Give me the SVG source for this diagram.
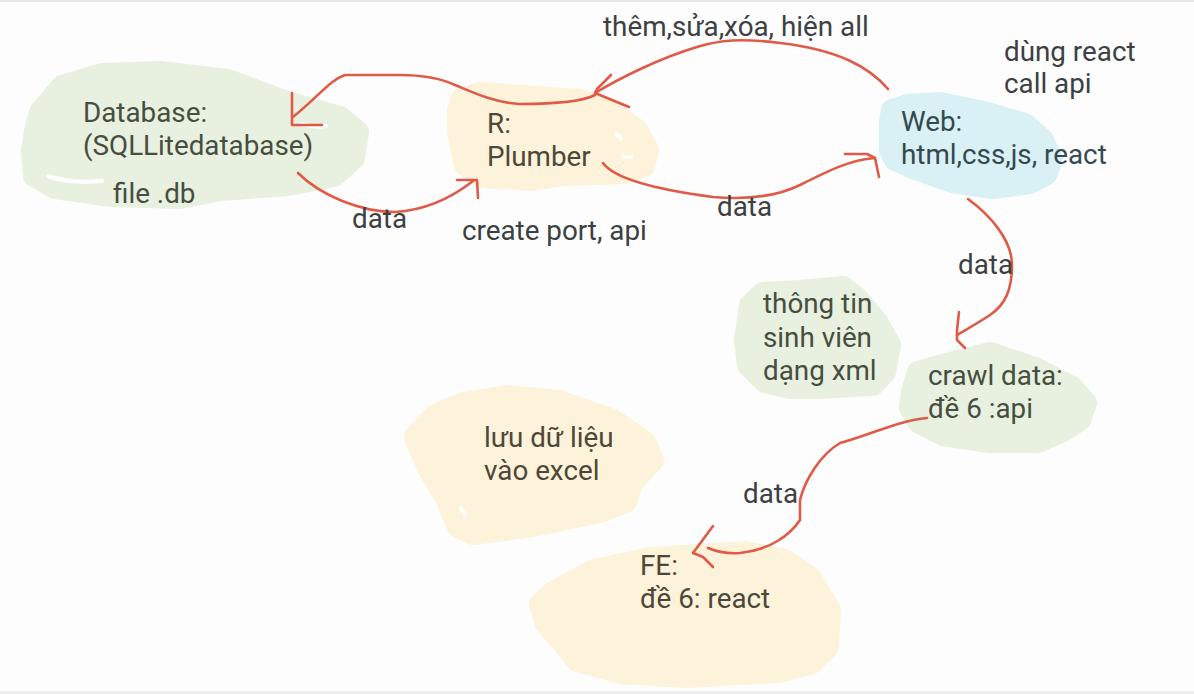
<svg xmlns="http://www.w3.org/2000/svg" width="1194" height="694" viewBox="0 0 1194 694">
<style>
.bg{fill:#e8f0df;stroke:#e8f0df;stroke-width:22;stroke-linejoin:round}
.by{fill:#fdf2da;stroke:#fdf2da;stroke-width:22;stroke-linejoin:round}
.bb{fill:#d9f1f5;stroke:#d9f1f5;stroke-width:22;stroke-linejoin:round}
.gap{fill:none;stroke:#ffffff;stroke-width:4;stroke-linecap:round}
text{font-family:Roboto,"Noto Sans",sans-serif;font-size:27.8px;fill:#3c4043}
.tg{fill:#464e40}
.ty{fill:#4e4737}
.tb{fill:#34494f}
.c{fill:none;stroke:#e05a48;stroke-width:2.6;stroke-linecap:round;stroke-linejoin:round}
</style>
<rect x="0" y="0" width="1194" height="694" fill="#fdfdfd"/>
<rect x="0" y="0" width="1194" height="2" fill="#e6e6e6"/>
<rect x="0" y="691" width="1194" height="3" fill="#efefef"/>

<g id="node-database">
<polygon class="bg" points="40,112 62,86 102,74 160,72 228,80 287,102 340,117 358,132 354,158 334,176 288,185 220,190 180,198 112,196 55,188 34,176 32,150 36,126"/>
<path class="gap" d="M48 176 Q70 184 102 181"/>
<path class="gap" d="M302 124 Q315 128 326 126"/>
<text class="tg" x="83" y="122">Database:</text>
<text class="tg" x="83" y="155">(SQLLitedatabase)</text>
<text class="tg" x="113" y="203">file .db</text>
</g>

<g id="node-r">
<polygon class="by" points="462,98 480,93 580,100 612,112 637,130 648,150 644,166 625,173 563,175 530,180 483,177 465,165 458,133 458,110"/>
<path class="gap" d="M617 134 L621 139"/>
<path class="gap" d="M623 157 L631 157"/>
<text class="ty" x="487" y="133">R:</text>
<text class="ty" x="487" y="166">Plumber</text>
</g>

<g id="node-web">
<polygon class="bb" points="890,122 892,110 908,105 940,103 988,113 1025,124 1043,140 1052,160 1046,175 1030,183 993,188 952,182 918,170 895,160 890,150"/>
<text class="tb" x="901" y="131">Web:</text>
<text class="tb" x="901" y="164">html,css,js, react</text>
</g>

<g id="node-xml">
<polygon class="bg" points="750,305 763,293 800,291 843,287 857,298 878,323 890,345 885,372 873,385 820,388 790,388 765,382 748,365 745,340"/>
<text class="tg" x="763" y="313">thông tin</text>
<text class="tg" x="763" y="347">sinh viên</text>
<text class="tg" x="763" y="380">dạng xml</text>
</g>

<g id="node-crawl">
<polygon class="bg" points="912,392 918,372 935,367 990,353 1035,368 1072,387 1086,403 1080,420 1063,431 1038,442 990,442 943,435 918,422 910,408"/>
<text class="tg" x="928" y="385">crawl data:</text>
<text class="tg" x="928" y="418">đề 6 :api</text>
</g>

<g id="node-excel">
<polygon class="by" points="415,437 435,415 463,403 508,396 558,401 613,420 645,442 653,460 632,483 626,502 600,512 533,526 473,534 458,527 446,498 428,468"/>
<path class="gap" d="M461 508 L465 515"/>
<text class="ty" x="484" y="447">lưu dữ liệu</text>
<text class="ty" x="484" y="480">vào excel</text>
</g>

<g id="node-fe">
<polygon class="by" points="540,604 553,592 594,570 651,558 746,552 785,560 810,577 830,610 828,647 812,663 778,672 686,677 622,673 577,661 561,641 546,624"/>
<text class="ty" x="640" y="575">FE:</text>
<text class="ty" x="640" y="608">đề 6: react</text>
</g>

<g id="connectors">
<path class="c" d="M888 89 C870 68 840 50 780 43 C740 38 720 40 697 47 C660 58 620 78 595 93"/>
<path class="c" d="M611 75 L597 89 L595 93 L629 107"/>
<path class="c" d="M595 95 C580 103 545 104 520 104 C495 103 472 92 455 85 C440 78 420 75 400 75 L345 75 C330 80 320 95 293 117"/>
<path class="c" d="M292 93 L292 125 L322 125"/>
<path class="c" d="M298 173 C320 195 360 212 395 212 C430 210 455 195 473 181"/>
<path class="c" d="M457 180 L477 180 L478 198"/>
<path class="c" d="M603 163 C615 180 660 190 713 197 C750 200 780 195 800 185 C830 170 850 160 875 158"/>
<path class="c" d="M845 154 L867 154 L875 158 L879 177"/>
<path class="c" d="M968 199 C990 215 1012 240 1012 265 C1012 290 1005 305 990 315 C975 325 965 330 957 335"/>
<path class="c" d="M959 312 L957 330 L957 340 L965 348"/>
<path class="c" d="M927 418 C900 420 870 435 840 443 C820 455 805 480 800 500 L800 520 C790 535 770 550 740 553 C725 554 715 551 708 548"/>
<path class="c" d="M713 526 L693 553 L703 557 L713 567"/>
</g>

<g id="labels">
<text x="603" y="36">thêm,sửa,xóa, hiện all</text>
<text x="1004" y="61">dùng react</text>
<text x="1004" y="93">call api</text>
<text x="352" y="228">data</text>
<text x="462" y="240">create port, api</text>
<text x="717" y="216">data</text>
<text x="958" y="274">data</text>
<text x="743" y="503">data</text>
</g>
</svg>
